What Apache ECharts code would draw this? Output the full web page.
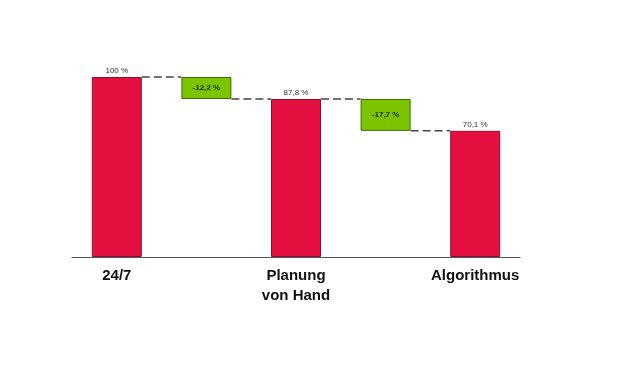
<!DOCTYPE html>
<html>
<head>
<meta charset="utf-8">
<script src="https://cdn.jsdelivr.net/npm/echarts@6/dist/echarts.min.js"></script>
<style>
  html, body { margin: 0; padding: 0; background: #fff; }
  #chart { width: 630px; height: 378px; }
</style>
</head>
<body>
<div id="chart"></div>
<script>
// Kategorien (leere Einträge = Differenzbalken)
const categories = ['24/7', '', 'Planung\nvon Hand', '', 'Algorithmus'];
// unsichtbarer Sockel für die Differenzbalken
const baseValues = [0, 87.8, 0, 70.1, 0];
// sichtbare Balkenhöhe
const barValues = [100, 12.2, 87.8, 17.7, 70.1];
// Beschriftung je Balken
const barLabels = ['100 %', '-12,2 %', '87,8 %', '-17,7 %', '70,1 %'];
// Typ: total oder delta
const barKinds = ['total', 'delta', 'total', 'delta', 'total'];
// gestrichelte Verbindungen zwischen Balken i und i+1
const connectorLevels = [100, 87.8, 87.8, 70.1];

const RED = '#E3103F';
const GREEN = '#7CC400';

const myChart = echarts.init(document.getElementById('chart'));

const option = {
  animation: false,
  grid: { left: 72, right: 110, top: 77, bottom: 121 },
  xAxis: {
    type: 'category',
    data: categories,
    axisTick: { show: false },
    axisLine: { lineStyle: { color: '#555', width: 1 } },
    axisLabel: {
      interval: 0,
      margin: 9,
      color: '#111',
      fontFamily: 'Liberation Sans, Arial, sans-serif',
      fontWeight: 'bold',
      fontSize: 15,
      lineHeight: 20
    }
  },
  yAxis: {
    type: 'value',
    min: 0,
    max: 100,
    show: false,
    splitLine: { show: false }
  },
  series: [
    {
      type: 'bar',
      stack: 'wf',
      barWidth: 50,
      itemStyle: { color: 'transparent' },
      silent: true,
      data: baseValues
    },
    {
      type: 'bar',
      stack: 'wf',
      barWidth: 50,
      data: barValues.map((v, i) => {
        const isTotal = barKinds[i] === 'total';
        return {
          value: v,
          itemStyle: {
            color: isTotal ? RED : GREEN,
            borderColor: isTotal ? '#8a1030' : '#3f6a00',
            borderWidth: 1
          },
          label: isTotal ? {
            show: true,
            position: 'top',
            distance: 2,
            formatter: barLabels[i],
            color: '#333',
            fontSize: 8,
            fontFamily: 'Liberation Sans, Arial, sans-serif'
          } : {
            show: true,
            position: 'inside',
            formatter: barLabels[i],
            color: '#1a2a00',
            fontWeight: 'bold',
            fontSize: 8,
            fontFamily: 'Liberation Sans, Arial, sans-serif'
          }
        };
      })
    },
    {
      // gestrichelte Verbindungslinien
      type: 'custom',
      silent: true,
      z: 1,
      data: connectorLevels.map((lv, i) => [i, lv]),
      renderItem: function (params, api) {
        const i = api.value(0);
        const lv = api.value(1);
        const p1 = api.coord([i, lv]);
        const p2 = api.coord([i + 1, lv]);
        const half = 25;
        return {
          type: 'line',
          shape: { x1: p1[0] + half, y1: p1[1], x2: p2[0] - half, y2: p2[1] },
          style: { stroke: '#444', lineWidth: 1.5, lineDash: [8, 4] }
        };
      }
    }
  ]
};

myChart.setOption(option, true);
</script>
</body>
</html>
